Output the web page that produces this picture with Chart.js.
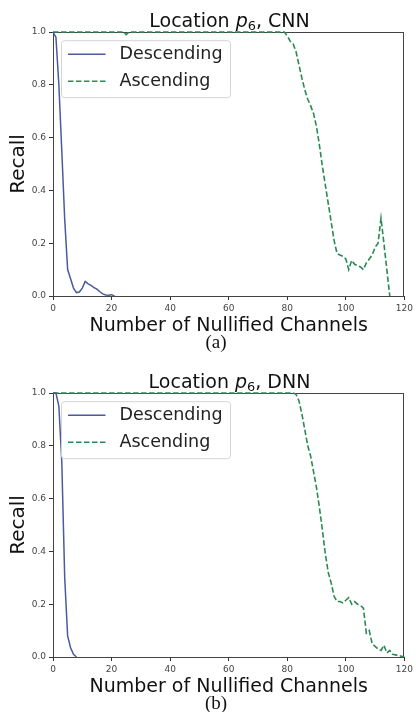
<!DOCTYPE html>
<html>
<head>
<meta charset="utf-8">
<script src="https://cdn.jsdelivr.net/npm/chart.js@4/dist/chart.umd.min.js"></script>
<style>
  html, body { margin: 0; padding: 0; background: #fff; }
  body { width: 416px; height: 712px; position: relative; overflow: hidden; }
  .panel { position: absolute; left: 0; width: 416px; height: 361px; }
  .panel canvas { position: absolute; left: 0; top: 0; }
  .title { position: absolute; left: 53px; width: 353px; top: 9px; text-align: center;
           font-family: "DejaVu Sans", sans-serif; font-size: 19px; line-height: 22px; color: #111; white-space: nowrap; }
  .title i { font-style: oblique; }
  .title .sub { font-size: 0.68em; position: relative; top: 0.25em; }
  .cap { position: absolute; left: 166px; width: 100px; top: 331px; text-align: center;
         font-family: "Liberation Serif", "Times New Roman", serif; font-size: 19px; line-height: 22px; color: #111; }
</style>
</head>
<body>
<div class="panel" style="top:0px">
  <canvas id="cA" width="416" height="334"></canvas>
  <div class="title">Location <i>p</i><span class="sub">6</span>, CNN</div>
  <div class="cap">(a)</div>
</div>
<div class="panel" style="top:361px">
  <canvas id="cB" width="416" height="334"></canvas>
  <div class="title">Location <i>p</i><span class="sub">6</span>, DNN</div>
  <div class="cap">(b)</div>
</div>
<script>
// ---- Data ----
const xTicks = [0, 20, 40, 60, 80, 100, 120];
const yTicks = [0.0, 0.2, 0.4, 0.6, 0.8, 1.0];
const seriesNames = ["Descending", "Ascending"];

// (a) CNN
const cnnDescX = [0, 1, 2, 3, 4, 5, 6, 7, 8, 9, 10, 11, 12, 13, 14, 15, 16, 17, 18, 19, 20, 21];
const cnnDescY = [1.0, 0.98, 0.80, 0.55, 0.29, 0.10, 0.065, 0.03, 0.013, 0.015, 0.03, 0.055, 0.046, 0.040, 0.032, 0.026, 0.016, 0.008, 0.004, 0.003, 0.005, 0.0];
const cnnAscX = [0, 24, 25, 26, 79, 80, 81, 82, 83, 84, 85, 86, 87, 88, 89, 90, 91, 92, 93, 94, 95, 96, 97, 98, 99, 100, 101, 102, 103, 104, 105, 106, 107, 108, 109, 110, 111, 112, 113, 114, 115];
const cnnAscY = [1.0, 1.0, 0.99, 1.0, 1.0, 0.985, 0.965, 0.955, 0.925, 0.875, 0.825, 0.78, 0.745, 0.72, 0.69, 0.64, 0.57, 0.49, 0.42, 0.35, 0.28, 0.21, 0.16, 0.155, 0.15, 0.14, 0.10, 0.135, 0.12, 0.115, 0.11, 0.10, 0.125, 0.14, 0.155, 0.185, 0.20, 0.295, 0.20, 0.10, 0.0];

// (b) DNN
const dnnDescX = [0, 1, 2, 3, 4, 5, 6, 7, 8];
const dnnDescY = [1.0, 1.0, 0.95, 0.74, 0.30, 0.08, 0.035, 0.01, 0.0];
const dnnAscX = [0, 82, 83, 84, 85, 86, 87, 88, 89, 90, 91, 92, 93, 94, 95, 96, 97, 98, 99, 100, 101, 102, 103, 104, 105, 106, 107, 108, 109, 110, 111, 112, 113, 114, 115, 116, 117, 118, 119, 120];
const dnnAscY = [1.0, 1.0, 0.995, 0.97, 0.92, 0.86, 0.80, 0.76, 0.70, 0.64, 0.565, 0.48, 0.39, 0.32, 0.28, 0.23, 0.21, 0.21, 0.205, 0.215, 0.225, 0.20, 0.21, 0.20, 0.195, 0.185, 0.09, 0.10, 0.05, 0.04, 0.03, 0.025, 0.045, 0.015, 0.025, 0.01, 0.008, 0.005, 0.003, 0.0];

// ---- Styling ----
const FONT = "'DejaVu Sans', sans-serif";
const BLUE = "#4a5a9e";
const GREEN = "#2a8a55";
const DASH = [5.5, 2.5];

function pts(xs, ys) { return xs.map((x, i) => ({ x: x, y: ys[i] })); }

const framePlugin = {
  id: 'frameAndLegend',
  beforeDatasetsDraw(chart) {
    const ctx = chart.ctx;
    const a = chart.chartArea;
    ctx.save();
    ctx.strokeStyle = "#444";
    ctx.lineWidth = 1;
    ctx.strokeRect(Math.round(a.left) + 0.5, Math.round(a.top) + 0.5, Math.round(a.right - a.left) - 1, Math.round(a.bottom - a.top));
    ctx.restore();
  },
  afterDatasetsDraw(chart) {
    const ctx = chart.ctx;
    const a = chart.chartArea;
    // legend box
    const bx = a.left + 8.5, by = a.top + 8.7, bw = 169, bh = 57, r = 3;
    ctx.save();
    ctx.beginPath();
    ctx.moveTo(bx + r, by);
    ctx.lineTo(bx + bw - r, by); ctx.quadraticCurveTo(bx + bw, by, bx + bw, by + r);
    ctx.lineTo(bx + bw, by + bh - r); ctx.quadraticCurveTo(bx + bw, by + bh, bx + bw - r, by + bh);
    ctx.lineTo(bx + r, by + bh); ctx.quadraticCurveTo(bx, by + bh, bx, by + bh - r);
    ctx.lineTo(bx, by + r); ctx.quadraticCurveTo(bx, by, bx + r, by);
    ctx.closePath();
    ctx.fillStyle = "rgba(255,255,255,0.85)";
    ctx.fill();
    ctx.strokeStyle = "#d4d4d4";
    ctx.lineWidth = 1;
    ctx.stroke();
    const ds = chart.data.datasets;
    const rows = [by + 13.5, by + 40.5];
    for (let i = 0; i < ds.length; i++) {
      const y = rows[i];
      ctx.beginPath();
      ctx.setLineDash(ds[i].borderDash || []);
      ctx.strokeStyle = ds[i].borderColor;
      ctx.lineWidth = ds[i].borderWidth;
      ctx.moveTo(bx + 6.5, y);
      ctx.lineTo(bx + 44, y);
      ctx.stroke();
      ctx.setLineDash([]);
      ctx.fillStyle = "#222";
      ctx.font = "17.5px " + FONT;
      ctx.textBaseline = "middle";
      ctx.textAlign = "left";
      ctx.fillText(ds[i].label, bx + 58, y + 0.5);
    }
    ctx.restore();
  }
};

function makeChart(id, descX, descY, ascX, ascY) {
  return new Chart(document.getElementById(id), {
    type: 'line',
    data: {
      datasets: [
        { label: seriesNames[0], data: pts(descX, descY), borderColor: BLUE, borderWidth: 1.5, pointRadius: 0, tension: 0, fill: false, clip: 3 },
        { label: seriesNames[1], data: pts(ascX, ascY), borderColor: GREEN, borderWidth: 1.6, borderDash: DASH, pointRadius: 0, tension: 0, fill: false, clip: 3 }
      ]
    },
    options: {
      responsive: false,
      animation: false,
      devicePixelRatio: 1,
      layout: { padding: { top: 32, right: 10, left: 0, bottom: 0 } },
      plugins: { legend: { display: false }, title: { display: false }, tooltip: { enabled: false } },
      scales: {
        x: {
          type: 'linear', min: 0, max: 120,
          afterBuildTicks: (s) => { s.ticks = xTicks.map(v => ({ value: v })); },
          afterFit: (s) => { s.height = 38; },
          ticks: { font: { family: FONT, size: 9 }, color: '#444', padding: 3, maxRotation: 0, callback: (v) => String(v) },
          grid: { drawOnChartArea: false, drawTicks: true, tickLength: 4, color: '#333' },
          border: { display: false },
          title: { display: true, text: 'Number of Nullified Channels', color: '#111',
                   font: { family: FONT, size: 19, lineHeight: 0.8 }, padding: { top: 0, bottom: 0 } }
        },
        y: {
          type: 'linear', min: 0, max: 1,
          afterBuildTicks: (s) => { s.ticks = yTicks.map(v => ({ value: v })); },
          afterFit: (s) => { s.width = 53; },
          ticks: { font: { family: FONT, size: 9 }, color: '#444', padding: 3, callback: (v) => Number(v).toFixed(1) },
          grid: { drawOnChartArea: false, drawTicks: true, tickLength: 4, color: '#333' },
          border: { display: false },
          title: { display: true, text: 'Recall', color: '#111',
                   font: { family: FONT, size: 20, lineHeight: 1 }, padding: { top: 8.5, bottom: 0 } }
        }
      }
    },
    plugins: [framePlugin]
  });
}

makeChart('cA', cnnDescX, cnnDescY, cnnAscX, cnnAscY);
makeChart('cB', dnnDescX, dnnDescY, dnnAscX, dnnAscY);
</script>
</body>
</html>
